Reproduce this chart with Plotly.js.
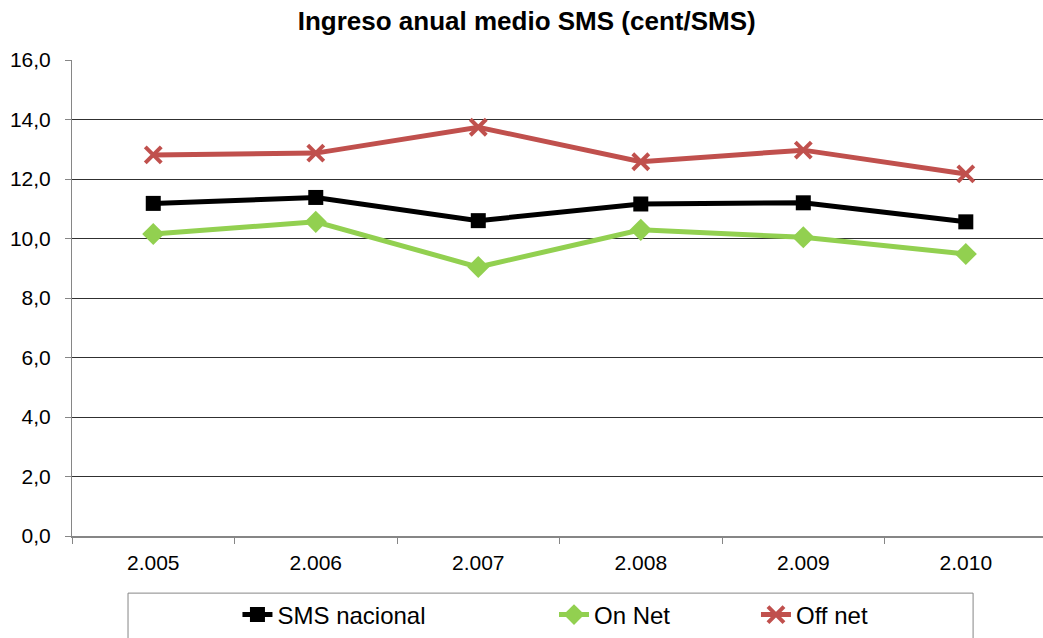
<!DOCTYPE html>
<html>
<head>
<meta charset="utf-8">
<script src="https://cdn.plot.ly/plotly-3.0.1.min.js"></script>
<style>html,body{margin:0;padding:0;background:#fff;}#chart{width:1043px;height:638px;}</style>
</head>
<body>
<div id="chart"></div>
<script>
var years = ["2.005", "2.006", "2.007", "2.008", "2.009", "2.010"];
var smsNacional = [11.18, 11.38, 10.60, 11.16, 11.20, 10.56];
var onNet = [10.15, 10.56, 9.04, 10.29, 10.04, 9.48];
var offNet = [12.81, 12.87, 13.74, 12.58, 12.97, 12.17];
var yTicks = [0, 2, 4, 6, 8, 10, 12, 14, 16];

var FONT = "Liberation Sans, Arial, sans-serif";

var traces = [
  {
    x: years, y: smsNacional, name: "SMS nacional", type: "scatter", mode: "lines+markers",
    line: {color: "#000000", width: 5},
    marker: {symbol: "square", size: 15, color: "#000000"},
    legend: "legend"
  },
  {
    x: years, y: onNet, name: "On Net", type: "scatter", mode: "lines+markers",
    line: {color: "#92D050", width: 5},
    marker: {symbol: "diamond", size: 17, color: "#92D050"},
    legend: "legend2"
  },
  {
    x: years, y: offNet, name: "Off net", type: "scatter", mode: "lines+markers",
    line: {color: "#C0504D", width: 5},
    marker: {symbol: "x-thin", size: 16, color: "#C0504D", line: {color: "#C0504D", width: 4}},
    legend: "legend3"
  }
];

function leg(x) {
  return {
    orientation: "h", x: x, xref: "paper", y: -0.166, yref: "paper",
    xanchor: "left", yanchor: "middle",
    font: {family: FONT, size: 24, color: "#000"},
    bgcolor: "rgba(0,0,0,0)", borderwidth: 0
  };
}

var layout = {
  width: 1043, height: 638,
  margin: {l: 72, r: 0, t: 60, b: 102},
  paper_bgcolor: "#ffffff", plot_bgcolor: "#ffffff",
  separators: ",.",
  font: {family: FONT, color: "#000"},
  title: {
    text: "<b>Ingreso anual medio SMS (cent/SMS)</b>",
    font: {family: FONT, size: 26, color: "#000"},
    x: 0.505, xref: "container", xanchor: "center",
    y: 1 - 21/638, yref: "container", yanchor: "middle"
  },
  xaxis: {
    type: "category", range: [-0.5, 5.475],
    showgrid: false, zeroline: false,
    showline: true, linecolor: "#868686", linewidth: 2,
    ticks: "outside", tickson: "boundaries", ticklen: 6, tickcolor: "#868686", tickwidth: 1,
    tickfont: {family: FONT, size: 21, color: "#000"},
    ticklabelstandoff: 7
  },
  yaxis: {
    range: [0, 16], tickvals: yTicks, tickformat: ".1f",
    showgrid: true, gridcolor: "#303030", gridwidth: 1,
    zeroline: false,
    showline: true, linecolor: "#868686", linewidth: 1,
    ticks: "outside", ticklen: 6, tickcolor: "#868686", tickwidth: 1,
    tickfont: {family: FONT, size: 21, color: "#000"},
    ticklabelstandoff: 10
  },
  showlegend: true,
  legend: leg(0.1704),
  legend2: leg(0.4964),
  legend3: leg(0.7044),
  shapes: [{
    type: "rect", xref: "paper", yref: "paper",
    x0: 0.0577, x1: 0.928, y0: -0.12, y1: -0.25,
    line: {color: "#868686", width: 1}, fillcolor: "rgba(0,0,0,0)", layer: "below"
  }]
};

Plotly.newPlot("chart", traces, layout, {displayModeBar: false, staticPlot: true});
</script>
</body>
</html>
